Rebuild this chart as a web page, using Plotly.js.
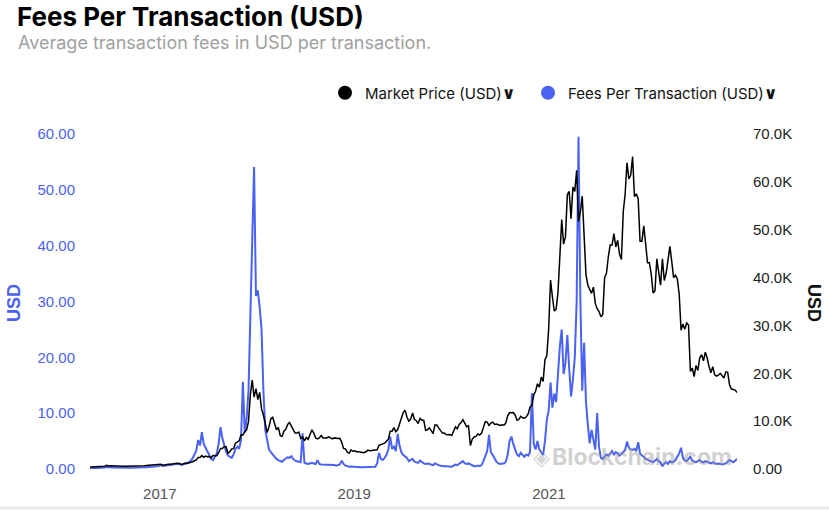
<!DOCTYPE html>
<html><head><meta charset="utf-8">
<script src="https://cdn.plot.ly/plotly-3.0.1.min.js"></script>
<style>html,body{margin:0;padding:0;background:#fff;}#chart{width:829px;height:510px;}</style>
</head><body><div id="chart"></div>
<script>
// Weekly samples starting 2016-04-14
const startDate = '2016-04-14';

// Market Price (USD), weekly
const price2016 = [425,445,450,447,455,440,470,537,580,760,620,670,640,660,665,655,580,590,575,578,575,625,608,595,605,612,637,630,688,690,715,740,735,755,770,780,860,975];
const price2017 = [1000,810,900,915,1010,990,1040,1170,1250,1190,1170,935,1040,1190,1170,1240,1330,1520,1720,1900,2400,2400,2800,2450,2700,2550,2600,2350,2850,2700,2800,3400,4300,4300,4700,4600,3300,3600,4200,4250,5400,5700,5900,7100,7100,7800,8200,9900,15500,18600,15000,16800];
const price2018 = [14500,16000,12500,11300,9500,7600,8800,10500,10800,9400,8200,8700,7000,6800,7900,8300,9300,9700,9000,8100,7500,7500,7700,6400,6700,5900,6600,6200,7400,8200,7500,6500,6300,6500,7000,6500,6500,6500,6700,6550,6300,6500,6400,6350,6400,5600,4300,4200,3500,3300,4000,3700];
const price2019 = [3800,3600,3600,3580,3450,3400,3600,3950,3800,3850,3900,4000,4030,4950,5050,5270,5400,5800,6200,7900,7900,8650,7800,8200,9500,11000,11800,12300,10800,10000,10400,11700,10400,10100,9500,10600,10200,10200,8100,8200,8600,8000,7400,9200,9200,8600,8100,7500,7500,7200,7150,7200];
const price2020 = [7000,7800,8800,8400,9300,9700,10300,9600,8800,9100,4900,6200,6700,6800,7300,7100,7500,8700,9900,9800,9100,9600,9800,9300,9400,9250,9100,9250,9150,9600,11100,11750,11800,11800,11300,10200,10350,11000,10700,10600,10900,11500,12900,13300,15500,16300,17800,17100,19200,18300,22800,23700];
const price2021 = [29300,39500,36000,33000,33400,36900,44500,52100,47000,48500,57300,58000,52300,58900,58000,62400,51700,53800,57000,49700,40600,38400,37500,36700,38000,34600,33500,32900,31800,32300,40000,40900,44400,46800,46800,49200,46400,47800,44900,43800,53800,57400,64000,60600,61400,65300,56900,57500,56500,47600,47600,50800];
const price2022 = [47100,43100,43100,40700,36800,37200,43900,40500,38400,43900,39400,40900,43900,46500,43400,40000,40500,39700,36500,29000,30300,29200,30500,30100,20400,21100,19300,21600,20600,23200,23900,22600,24400,23200,21400,20100,21400,19700,19400,19600,20000,19400,19000,20300,20200,17600,16700,16600,16500,16000];

// Fees Per Transaction (USD), weekly
const fees2016 = [0.12,0.13,0.13,0.14,0.15,0.14,0.16,0.22,0.25,0.35,0.28,0.3,0.26,0.27,0.25,0.24,0.22,0.23,0.22,0.22,0.21,0.23,0.23,0.22,0.22,0.23,0.24,0.25,0.28,0.3,0.32,0.34,0.34,0.36,0.38,0.4,0.45,0.55];
const fees2017 = [0.7,0.55,0.6,0.6,0.7,0.7,0.75,0.85,0.95,0.9,0.9,0.75,0.85,1.0,1.0,1.2,1.5,1.9,2.6,3.3,5.2,4.2,6.6,4.5,3.8,3.2,2.5,1.8,1.6,2.2,2.8,4.6,7.5,5.5,4.2,3.1,2.4,2.2,2.0,2.6,3.6,4.0,3.6,5.2,15.6,6.5,9.0,14,26,38,54.1,31];
const fees2018 = [32,29,25,14,7,5.2,3.5,3.0,2.6,2.0,1.8,1.6,1.5,1.3,1.6,1.8,2.1,2.0,2.3,1.8,1.5,1.4,1.3,1.2,6.4,1.1,1.0,0.9,1.0,1.1,1.0,0.9,1.6,0.9,0.8,0.8,0.7,0.7,0.8,0.7,0.7,0.7,0.6,0.7,0.8,1.5,0.9,0.6,0.5,0.4,0.45,0.4];
const fees2019 = [0.35,0.3,0.3,0.3,0.3,0.3,0.3,0.35,0.35,0.35,0.4,0.4,1.0,2.9,1.8,1.6,2.0,2.5,3.5,5.8,3.6,4.0,3.2,6.3,4.2,3.0,2.5,2.2,2.0,1.4,1.6,1.8,1.3,1.2,1.1,1.5,1.2,1.0,0.9,1.0,0.9,0.8,0.7,1.0,0.8,0.7,0.6,0.5,0.5,0.5,0.45,0.5];
const fees2020 = [0.4,0.6,0.8,0.7,0.9,1.1,1.4,1.0,0.9,1.0,0.8,0.6,0.5,0.5,0.6,0.5,0.7,1.4,2.5,3.2,6.1,3.0,2.5,1.8,1.3,1.0,0.9,1.0,1.0,1.3,2.5,5.0,5.8,4.5,3.6,2.6,2.3,2.9,2.5,2.2,2.6,2.4,3.0,13.6,4.5,3.5,5.0,3.5,3.0,2.5,5.0,8.8];
const fees2021 = [10.5,15.5,11,13.5,12,17,22,25,17,19,24,18,13,16,20,30,59.5,30,14,22.6,12,8,4.6,7,5,3.5,10,4,2,1.8,2.2,2.6,2.4,2.8,3.2,2.6,3.0,2.8,2.4,2.7,3.0,3.4,4.9,3.8,3.5,3.4,3.6,3.2,4.8,2.8,2.4,2.2];
const fees2022 = [1.8,1.6,1.5,1.4,1.2,1.5,1.8,1.4,1.2,0.5,1.0,1.2,0.9,1.4,1.2,1.3,1.6,2.2,2.8,3.8,2.0,1.5,1.4,1.8,2.2,1.5,1.3,1.2,1.4,1.6,1.3,1.2,1.4,1.3,1.1,1.0,1.2,1.1,0.9,1.0,0.9,0.8,0.9,1.0,1.3,1.6,1.4,1.2,1.5,1.8];

// Axis ticks
const xTickDates = ['2017-01-01','2019-01-01','2021-01-01'];
const xTickLabels = ['2017','2019','2021'];
const feeTicks = [0,10,20,30,40,50,60];
const feeTickLabels = ['0.00','10.00','20.00','30.00','40.00','50.00','60.00'];
const priceTicks = [0,10000,20000,30000,40000,50000,60000,70000];
const priceTickLabels = ['0.00','10.0K','20.0K','30.0K','40.0K','50.0K','60.0K','70.0K'];

const marketPrice = [].concat(price2016, price2017, price2018, price2019, price2020, price2021, price2022);
const feesPerTx = [].concat(fees2016, fees2017, fees2018, fees2019, fees2020, fees2021, fees2022);

const BLUE = '#4a62f2';
const WEEK_MS = 7 * 24 * 3600 * 1000;
const W = 829, H = 510;
const M = {l: 90, r: 92, t: 134, b: 41};
const PW = W - M.l - M.r, PH = H - M.t - M.b;
const px = v => (v - M.l) / PW;          // page px -> paper x
const py = v => (H - M.b - v) / PH;      // page px -> paper y
const chev = '<span style="font-family:DejaVu Sans;font-weight:bold;font-size:17px">∨</span>';

const traces = [
  {type: 'scatter', mode: 'lines', name: 'Fees Per Transaction (USD)', x0: startDate, dx: WEEK_MS,
   y: feesPerTx, xaxis: 'x', yaxis: 'y', line: {color: BLUE, width: 2}, showlegend: false, hoverinfo: 'skip'},
  {type: 'scatter', mode: 'lines', name: 'Market Price (USD)', x0: startDate, dx: WEEK_MS,
   y: marketPrice, xaxis: 'x', yaxis: 'y2', line: {color: '#000', width: 1.5}, showlegend: false, hoverinfo: 'skip'},
  {type: 'scatter', mode: 'markers', name: 'Market Price (USD)' + chev, x: [null], y: [null],
   marker: {color: '#000', size: 14}, showlegend: true, legendwidth: 158},
  {type: 'scatter', mode: 'markers', name: 'Fees Per Transaction (USD)' + chev, x: [null], y: [null],
   marker: {color: BLUE, size: 14}, showlegend: true}
];

const tickFont = {family: 'Liberation Sans, Arial, sans-serif', size: 15};

const layout = {
  width: W, height: H, margin: M,
  paper_bgcolor: '#fff', plot_bgcolor: '#fff',
  font: {family: 'Inter, sans-serif', color: '#222'},
  title: {text: '<b>Fees Per Transaction (USD)</b>', font: {family: 'Inter', size: 26, color: '#000'},
          x: 17 / W, xref: 'container', xanchor: 'left', y: 1 - 17 / H, yref: 'container', yanchor: 'middle'},
  xaxis: {type: 'date', range: ['2016-04-14', '2022-12-08'], showgrid: false, zeroline: false, showline: false,
          tickmode: 'array', tickvals: xTickDates, ticktext: xTickLabels,
          ticks: 'outside', ticklen: 11, tickcolor: 'rgba(0,0,0,0)',
          tickfont: Object.assign({}, tickFont, {color: '#555'}), fixedrange: true},
  yaxis: {range: [0, 60], side: 'left', showgrid: false, zeroline: false, showline: false,
          tickmode: 'array', tickvals: feeTicks, ticktext: feeTickLabels,
          ticks: 'outside', ticklen: 11, tickcolor: 'rgba(0,0,0,0)',
          tickfont: Object.assign({}, tickFont, {color: BLUE}), fixedrange: true},
  yaxis2: {range: [0, 70000], side: 'right', overlaying: 'y', showgrid: false, zeroline: false, showline: false,
           tickmode: 'array', tickvals: priceTicks, ticktext: priceTickLabels,
           ticks: 'outside', ticklen: 12, tickcolor: 'rgba(0,0,0,0)',
           tickfont: Object.assign({}, tickFont, {color: '#222'}), fixedrange: true},
  legend: {orientation: 'h', x: px(325), xanchor: 'left', y: py(93), yanchor: 'middle',
           font: {family: 'Inter', size: 15, color: '#111'}, itemwidth: 30,
           bgcolor: 'rgba(0,0,0,0)'},
  annotations: [
    {text: 'Average transaction fees in USD per transaction.', xref: 'paper', yref: 'paper',
     x: px(16), y: py(42), xanchor: 'left', yanchor: 'middle', showarrow: false,
     font: {family: 'Inter', size: 18, color: '#a0a0a0'}},
    {text: '<b>USD</b>', xref: 'paper', yref: 'paper', x: px(14), y: py(303), textangle: -90,
     xanchor: 'center', yanchor: 'middle', showarrow: false,
     font: {family: 'Liberation Sans, Arial', size: 18, color: BLUE}},
    {text: '<b>USD</b>', xref: 'paper', yref: 'paper', x: px(814), y: py(303), textangle: 90,
     xanchor: 'center', yanchor: 'middle', showarrow: false,
     font: {family: 'Liberation Sans, Arial', size: 18, color: '#111'}},
    {text: '<b>Blockchain.com</b>', xref: 'paper', yref: 'paper', x: px(734), y: py(457),
     xanchor: 'right', yanchor: 'middle', showarrow: false,
     font: {family: 'Inter', size: 23, color: 'rgba(150,150,150,0.45)'}},
    {text: '<b>◈</b>', xref: 'paper', yref: 'paper', x: px(541), y: py(457),
     xanchor: 'center', yanchor: 'middle', showarrow: false,
     font: {family: 'DejaVu Sans', size: 22, color: 'rgba(150,150,150,0.4)'}}
  ],
  shapes: [
    {type: 'line', xref: 'paper', yref: 'paper', x0: px(0), x1: px(W), y0: py(508), y1: py(508),
     line: {color: '#ececec', width: 3}}
  ]
};

Plotly.newPlot('chart', traces, layout, {staticPlot: true, displayModeBar: false});
</script></body></html>
